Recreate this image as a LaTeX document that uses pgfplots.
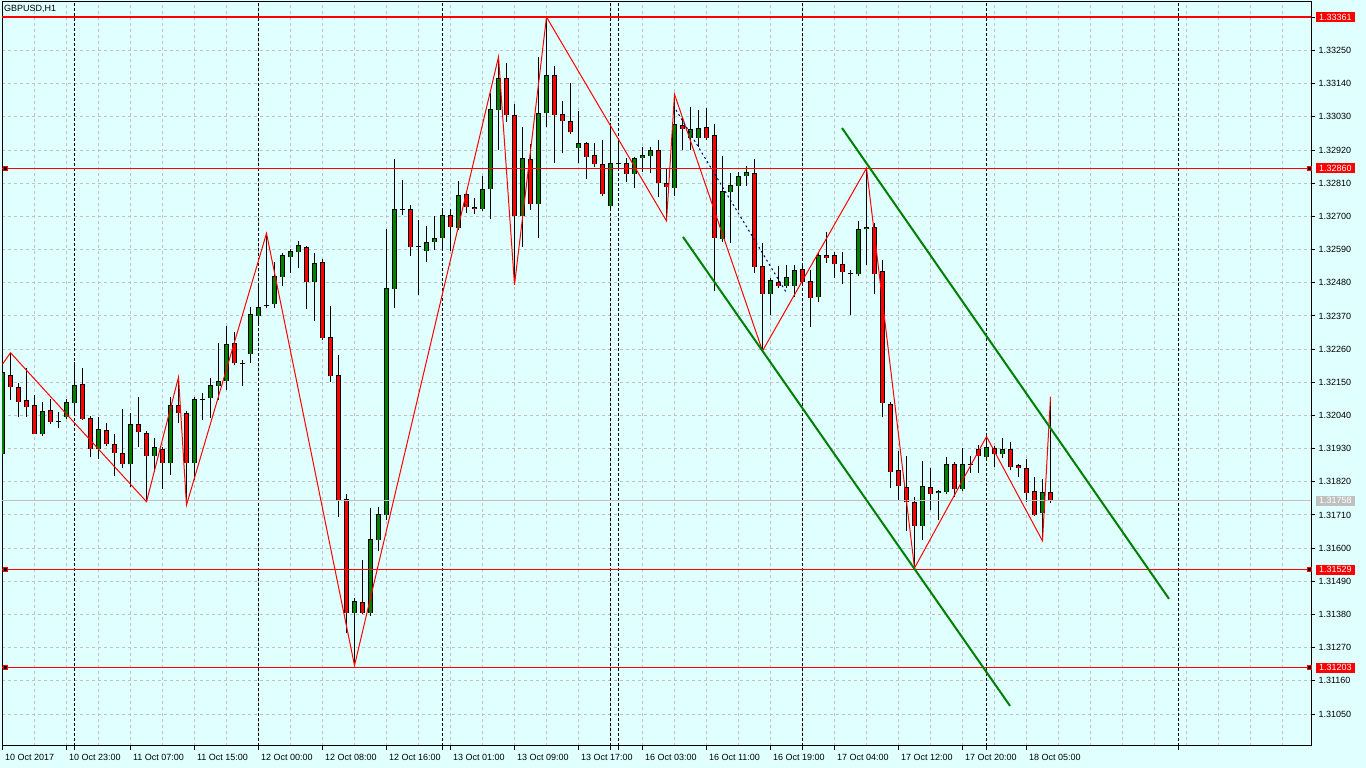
\documentclass[border=0pt]{standalone}
\usepackage{fontspec}
\setmainfont{Liberation Sans}
\usepackage{pgfplots}
\usepackage{pgfplotstable}
\pgfplotsset{compat=1.18}

\definecolor{chartbg}{HTML}{E0FFFF}
\definecolor{bullgreen}{HTML}{008000}
\definecolor{gridgray}{HTML}{C0C0C0}
\newcommand{\lbl}{\fontsize{9}{10}\selectfont}

% GBPUSD H1 candles, x = bar index
\pgfplotstableread{
x o h l c
0 1.31912 1.32207 1.31906 1.32181
5 1.31978 1.32086 1.31972 1.32052
7 1.32021 1.32053 1.32000 1.32021
8 1.32034 1.32096 1.32028 1.32082
9 1.32082 1.32217 1.32047 1.32141
12 1.31928 1.32034 1.31896 1.31992
16 1.31878 1.32049 1.31804 1.32011
19 1.31907 1.31964 1.31852 1.31935
21 1.31884 1.32102 1.31843 1.32072
24 1.31883 1.32101 1.31826 1.32094
25 1.32094 1.32114 1.32025 1.32094
26 1.32097 1.32163 1.32031 1.32141
27 1.32139 1.32279 1.32091 1.32153
28 1.32155 1.32337 1.32125 1.32276
30 1.32211 1.32224 1.32139 1.32211
31 1.32243 1.32399 1.32215 1.32376
32 1.32371 1.32476 1.32346 1.32399
33 1.32403 1.32644 1.32396 1.32403
34 1.32409 1.32549 1.32397 1.32502
35 1.32500 1.32578 1.32470 1.32569
36 1.32564 1.32591 1.32513 1.32585
37 1.32583 1.32620 1.32528 1.32602
39 1.32482 1.32580 1.32354 1.32545
44 1.31385 1.31435 1.31211 1.31424
46 1.31385 1.31734 1.31376 1.31629
47 1.31626 1.31738 1.31589 1.31710
48 1.31710 1.32657 1.31693 1.32461
49 1.32458 1.32892 1.32396 1.32724
50 1.32724 1.32822 1.32705 1.32724
52 1.32599 1.32687 1.32440 1.32599
53 1.32586 1.32668 1.32550 1.32615
54 1.32616 1.32701 1.32589 1.32627
55 1.32627 1.32721 1.32589 1.32704
57 1.32663 1.32816 1.32655 1.32770
60 1.32724 1.32834 1.32718 1.32790
61 1.32790 1.33108 1.32690 1.33053
62 1.33053 1.33229 1.32920 1.33158
65 1.32702 1.32997 1.32598 1.32893
67 1.32740 1.33227 1.32627 1.33042
68 1.33042 1.33361 1.32997 1.33168
72 1.32928 1.33049 1.32878 1.32942
76 1.32736 1.33011 1.32727 1.32876
77 1.32877 1.32959 1.32854 1.32877
79 1.32840 1.32898 1.32793 1.32893
80 1.32893 1.32929 1.32848 1.32903
81 1.32901 1.32929 1.32843 1.32920
84 1.32795 1.33105 1.32768 1.33005
86 1.32961 1.33064 1.32920 1.32989
87 1.32961 1.33053 1.32931 1.32992
90 1.32625 1.32901 1.32615 1.32784
91 1.32782 1.32845 1.32613 1.32804
92 1.32802 1.32848 1.32721 1.32834
93 1.32835 1.32867 1.32802 1.32844
96 1.32442 1.32497 1.32373 1.32486
98 1.32470 1.32539 1.32462 1.32499
99 1.32470 1.32539 1.32434 1.32522
102 1.32432 1.32578 1.32417 1.32569
106 1.32511 1.32522 1.32373 1.32511
107 1.32508 1.32685 1.32502 1.32658
108 1.32657 1.32860 1.32539 1.32664
115 1.31675 1.31889 1.31627 1.31806
117 1.31782 1.31793 1.31694 1.31789
118 1.31787 1.31903 1.31779 1.31878
120 1.31795 1.31931 1.31790 1.31878
121 1.31876 1.31906 1.31850 1.31876
123 1.31903 1.31970 1.31890 1.31935
125 1.31911 1.31964 1.31900 1.31928
130 1.31716 1.31830 1.31624 1.31785
}\bull

\pgfplotstableread{
x o h l c
1 1.32174 1.32248 1.32091 1.32136
2 1.32133 1.32149 1.32034 1.32086
3 1.32090 1.32197 1.32036 1.32067
4 1.32072 1.32108 1.31978 1.31978
6 1.32055 1.32094 1.32012 1.32018
10 1.32144 1.32197 1.32025 1.32029
11 1.32031 1.32038 1.31901 1.31928
13 1.31991 1.32014 1.31939 1.31945
14 1.31945 1.31978 1.31840 1.31915
15 1.31915 1.32062 1.31866 1.31880
17 1.32011 1.32100 1.31937 1.31984
18 1.31981 1.31989 1.31754 1.31905
20 1.31928 1.31935 1.31796 1.31884
22 1.32074 1.32167 1.32016 1.32047
23 1.32047 1.32056 1.31743 1.31884
29 1.32279 1.32316 1.32207 1.32213
38 1.32598 1.32602 1.32392 1.32482
40 1.32548 1.32558 1.32290 1.32298
41 1.32299 1.32403 1.32152 1.32170
42 1.32173 1.32242 1.31704 1.31755
43 1.31760 1.31779 1.31318 1.31385
45 1.31421 1.31561 1.31383 1.31385
51 1.32724 1.32738 1.32570 1.32597
56 1.32704 1.32724 1.32586 1.32664
58 1.32773 1.32778 1.32712 1.32730
59 1.32730 1.32760 1.32708 1.32724
63 1.33158 1.33210 1.33014 1.33035
64 1.33035 1.33072 1.32473 1.32702
66 1.32889 1.32939 1.32721 1.32740
69 1.33168 1.33199 1.32878 1.33035
70 1.33039 1.33083 1.32909 1.33015
71 1.33016 1.33141 1.32973 1.32979
73 1.32942 1.32947 1.32823 1.32898
74 1.32903 1.32942 1.32863 1.32873
75 1.32873 1.32953 1.32768 1.32773
78 1.32876 1.32893 1.32815 1.32840
82 1.32920 1.32953 1.32765 1.32810
83 1.32810 1.32861 1.32685 1.32797
85 1.33003 1.33031 1.32920 1.32990
88 1.32994 1.33058 1.32953 1.32961
89 1.32967 1.33005 1.32454 1.32627
94 1.32841 1.32890 1.32513 1.32533
95 1.32533 1.32611 1.32254 1.32442
97 1.32482 1.32536 1.32462 1.32470
100 1.32525 1.32536 1.32479 1.32484
101 1.32485 1.32522 1.32334 1.32429
103 1.32571 1.32649 1.32547 1.32563
104 1.32569 1.32583 1.32497 1.32541
105 1.32541 1.32582 1.32476 1.32515
109 1.32664 1.32679 1.32442 1.32509
110 1.32516 1.32556 1.32034 1.32081
111 1.32077 1.32086 1.31799 1.31852
112 1.31859 1.31922 1.31758 1.31806
113 1.31802 1.31906 1.31658 1.31752
114 1.31753 1.31771 1.31534 1.31675
116 1.31802 1.31867 1.31727 1.31779
119 1.31878 1.31886 1.31771 1.31795
122 1.31926 1.31942 1.31850 1.31906
124 1.31931 1.31939 1.31870 1.31911
126 1.31926 1.31951 1.31859 1.31870
127 1.31873 1.31878 1.31837 1.31865
128 1.31865 1.31896 1.31754 1.31782
129 1.31787 1.31837 1.31707 1.31710
131 1.31785 1.32102 1.31751 1.31758
}\bear

\begin{document}
\begin{tikzpicture}
\fill[chartbg] (-2pt,-22pt) rectangle (1364pt,746pt);
\useasboundingbox (-2pt,-22pt) rectangle (1364pt,746pt);
\begin{axis}[
    at={(0,0)}, anchor=south west,
    scale only axis, width=1309pt, height=744pt,
    xmin=-0.0625, xmax=163.5625,
    ymin=1.30944, ymax=1.33411,
    axis line style={black, line width=1pt},
    xtick={0,8,...,128},
    xticklabels={10 Oct 2017, 10 Oct 23:00, 11 Oct 07:00, 11 Oct 15:00, 12 Oct 00:00, 12 Oct 08:00, 12 Oct 16:00, 13 Oct 01:00, 13 Oct 09:00, 13 Oct 17:00, 16 Oct 03:00, 16 Oct 11:00, 16 Oct 19:00, 17 Oct 04:00, 17 Oct 12:00, 17 Oct 20:00, 18 Oct 05:00},
    minor xtick={0,4,...,160},
    minor tick length=0pt,
    extra x ticks={9,32,55,76,77,100,123,147},
    extra x tick labels={},
    extra x tick style={grid=major, major grid style={black, line width=1pt, dash pattern=on 3pt off 2pt}},
    ytick={1.3105,1.3116,1.3127,1.3138,1.3149,1.3160,1.3171,1.3182,1.3193,1.3204,1.3215,1.3226,1.3237,1.3248,1.3259,1.3270,1.3281,1.3292,1.3303,1.3314,1.3325,1.3336},
    xtick pos=bottom, ytick pos=right, yticklabel pos=right,
    tick align=outside, major tick length=4pt,
    tick style={black, line width=1pt},
    xminorgrids, ymajorgrids,
    grid style={gridgray, line width=1pt, dash pattern=on 3pt off 3pt},
    scaled y ticks=false,
    ticklabel style={font=\lbl},
    yticklabel style={anchor=west, /pgf/number format/.cd, fixed, fixed zerofill, precision=5, assume math mode=true},
    xticklabel style={anchor=north west, xshift=-1pt, yshift=-1pt},
    clip mode=individual,
]
% wicks
\addplot[draw=none, mark=none, forget plot, error bars/.cd, y dir=plus, y explicit, error mark=none,
    error bar style={draw=black, line width=1pt}]
    table[x=x, y=l, y error plus expr=\thisrow{h}-\thisrow{l}] {\bull};
\addplot[draw=none, mark=none, forget plot, error bars/.cd, y dir=plus, y explicit, error mark=none,
    error bar style={draw=black, line width=1pt}]
    table[x=x, y=l, y error plus expr=\thisrow{h}-\thisrow{l}] {\bear};
% bodies: black outline, then coloured fill with top and bottom edges
\addplot[draw=none, mark=none, forget plot, error bars/.cd, y dir=plus, y explicit, error mark=none,
    error bar style={draw=black, line width=5pt}]
    table[x=x, y=o, y error plus expr=\thisrow{c}-\thisrow{o}] {\bull};
\addplot[draw=none, mark=none, forget plot, error bars/.cd, y dir=plus, y explicit, error mark=none,
    error bar style={draw=black, line width=5pt}]
    table[x=x, y=c, y error plus expr=\thisrow{o}-\thisrow{c}] {\bear};
\addplot[draw=none, mark=none, forget plot, error bars/.cd, y dir=plus, y explicit, error mark=-,
    error mark options={rotate=90, draw=black, line width=1pt, mark size=2.5pt},
    error bar style={draw=bullgreen, line width=3pt}]
    table[x=x, y=o, y error plus expr=\thisrow{c}-\thisrow{o}] {\bull};
\addplot[draw=none, mark=none, forget plot, error bars/.cd, y dir=plus, y explicit, error mark=-,
    error mark options={rotate=90, draw=black, line width=1pt, mark size=2.5pt},
    error bar style={draw=red, line width=3pt}]
    table[x=x, y=c, y error plus expr=\thisrow{o}-\thisrow{c}] {\bear};

% horizontal levels
\addplot[red, line width=2pt, forget plot] coordinates {(-0.0625,1.33361) (163.5625,1.33361)};
\addplot[red, line width=1pt, forget plot] coordinates {(-0.0625,1.32860) (163.5625,1.32860)};
\addplot[red, line width=1pt, forget plot] coordinates {(-0.0625,1.31529) (163.5625,1.31529)};
\addplot[red, line width=1pt, forget plot] coordinates {(-0.0625,1.31203) (163.5625,1.31203)};
\addplot[gridgray, line width=1pt, forget plot] coordinates {(-0.0625,1.31758) (163.5625,1.31758)};
\addplot[only marks, mark=square*, mark size=2pt, mark options={fill=black, draw=red, line width=0.8pt}, forget plot]
    coordinates {(0.31,1.32860) (0.31,1.31529) (0.31,1.31203) (163.3,1.32860) (163.3,1.31529) (163.3,1.31203)};

% zigzag
\addplot[red, line width=1pt, forget plot] coordinates {
    (0,1.32210) (1,1.32248) (18,1.31754) (22,1.32167) (23,1.31743) (33,1.32644)
    (44,1.31211) (62,1.33229) (64,1.32473) (68,1.33361) (83,1.32685) (84,1.33105)
    (95,1.32254) (108,1.32860) (114,1.31534) (123,1.31970) (130,1.31624) (131,1.32102)};
% channel
\addplot[bullgreen, line width=2pt, forget plot] coordinates {(104.94,1.32993) (145.81,1.31432)};
\addplot[bullgreen, line width=2pt, forget plot] coordinates {(85.06,1.32632) (125.94,1.31077)};
\addplot[blue!50!black, line width=1pt, dash pattern=on 2pt off 3pt, forget plot] coordinates {(84.19,1.33053) (97.94,1.32449)};

\node[anchor=north west, font=\lbl, inner sep=0pt, xshift=2pt, yshift=-3pt] at (rel axis cs:0,1) {GBPUSD,H1};
\coordinate (e1) at (axis cs:163.5625,1.33361);
\coordinate (e2) at (axis cs:163.5625,1.32860);
\coordinate (e3) at (axis cs:163.5625,1.31758);
\coordinate (e4) at (axis cs:163.5625,1.31529);
\coordinate (e5) at (axis cs:163.5625,1.31203);
\end{axis}
\tikzset{pricebox/.style={anchor=west, text=white, font=\lbl, inner xsep=3.5pt, inner ysep=0pt, minimum height=10pt}}
\node[pricebox, fill=red] at ([xshift=4.5pt]e1) {1.33361};
\node[pricebox, fill=red] at ([xshift=4.5pt]e2) {1.32860};
\node[pricebox, fill=gridgray] at ([xshift=4.5pt]e3) {1.31758};
\node[pricebox, fill=red] at ([xshift=4.5pt]e4) {1.31529};
\node[pricebox, fill=red] at ([xshift=4.5pt]e5) {1.31203};
\end{tikzpicture}
\end{document}
